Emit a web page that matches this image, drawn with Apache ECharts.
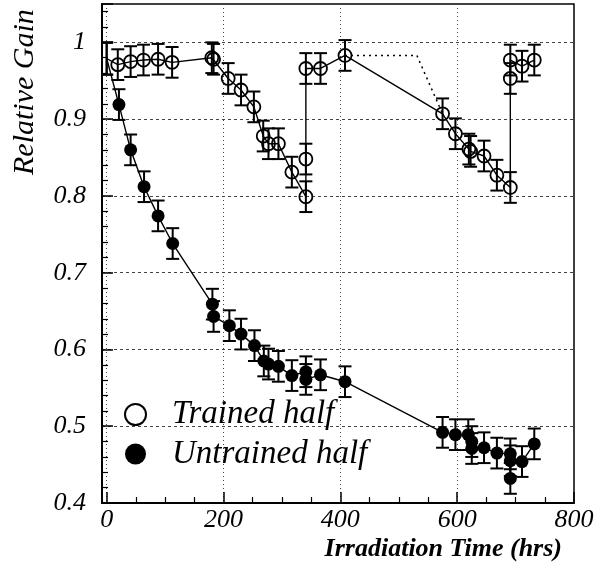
<!DOCTYPE html>
<html><head><meta charset="utf-8">
<script src="https://cdn.jsdelivr.net/npm/echarts@6/dist/echarts.min.js"></script>
<style>html,body{margin:0;padding:0;background:#fff}#c{width:598px;height:573px}</style>
</head><body><div id="c"></div>
<script>
// ---- data ----
const trainedTime = [0, 19, 41, 63, 88, 112, 180, 183, 208, 230, 252, 268, 277, 294, 317, 341, 341, 341, 366, 408, 575, 597, 620, 623, 646, 668, 691, 691, 691, 711, 732];
const trainedGain = [0.979, 0.971, 0.975, 0.977, 0.978, 0.974, 0.980, 0.978, 0.953, 0.938, 0.916, 0.878, 0.868, 0.868, 0.831, 0.799, 0.848, 0.966, 0.966, 0.983, 0.907, 0.881, 0.861, 0.858, 0.852, 0.827, 0.811, 0.953, 0.977, 0.969, 0.977];
const trainedErr  = [0.021, 0.02, 0.02, 0.02, 0.02, 0.02, 0.02, 0.02, 0.02, 0.02, 0.02, 0.02, 0.02, 0.02, 0.02, 0.02, 0.02, 0.02, 0.02, 0.02, 0.02, 0.02, 0.02, 0.02, 0.02, 0.02, 0.02, 0.02, 0.02, 0.02, 0.02];
const untrainedTime = [0, 21, 41, 64, 88, 113, 181, 183, 210, 230, 253, 269, 277, 294, 317, 341, 341, 366, 408, 575, 597, 619, 625, 625, 646, 668, 691, 691, 691, 711, 732];
const untrainedGain = [0.979, 0.919, 0.860, 0.812, 0.774, 0.738, 0.659, 0.643, 0.631, 0.620, 0.605, 0.585, 0.581, 0.578, 0.566, 0.571, 0.561, 0.567, 0.558, 0.492, 0.489, 0.489, 0.480, 0.471, 0.472, 0.465, 0.464, 0.432, 0.455, 0.454, 0.477];
const untrainedErr  = [0.021, 0.02, 0.02, 0.02, 0.02, 0.02, 0.02, 0.02, 0.02, 0.02, 0.02, 0.02, 0.02, 0.02, 0.02, 0.02, 0.02, 0.02, 0.02, 0.02, 0.02, 0.02, 0.02, 0.02, 0.02, 0.02, 0.02, 0.02, 0.02, 0.02, 0.02];
const dottedTime = [408, 531, 575];
const dottedGain = [0.983, 0.983, 0.907];
const xTickValues = [0, 200, 400, 600, 800];
const xTickLabels = ['0', '200', '400', '600', '800'];
const yTickValues = [0.4, 0.5, 0.6, 0.7, 0.8, 0.9, 1.0];
const yTickLabels = ['0.4', '0.5', '0.6', '0.7', '0.8', '0.9', '1'];
const xTitle = 'Irradiation Time (hrs)';
const yTitle = 'Relative Gain';

const X_MIN = -8, X_MAX = 800, Y_MIN = 0.4, Y_MAX = 1.05;
const FONT = 'Liberation Serif';
const TICK_FONT = "italic 26px 'Liberation Serif'";

function pointData(times, gains) {
  return times.map((t, i) => ({ value: [t, gains[i]], symbol: t === 0 ? 'none' : 'circle' }));
}
function errSeries(times, gains, errs) {
  return {
    type: 'custom', silent: true, clip: true, z: 2,
    data: times.map((t, i) => [t, gains[i], errs[i]]),
    encode: { x: 0, y: 1 },
    renderItem: function (params, api) {
      const x = api.value(0), y = api.value(1), e = api.value(2);
      const lo = api.coord([x, y - e]), hi = api.coord([x, y + e]);
      const w = 6.5, st = { stroke: '#000', lineWidth: 2 };
      return { type: 'group', children: [
        { type: 'line', shape: { x1: lo[0], y1: lo[1], x2: hi[0], y2: hi[1] }, style: st },
        { type: 'line', shape: { x1: lo[0] - w, y1: lo[1], x2: lo[0] + w, y2: lo[1] }, style: st },
        { type: 'line', shape: { x1: hi[0] - w, y1: hi[1], x2: hi[0] + w, y2: hi[1] }, style: st }
      ] };
    }
  };
}
// tick labels placed through the axis scales
const xLabelSeries = {
  type: 'custom', silent: true, clip: false, z: 6,
  data: xTickValues.map((v, i) => [v, Y_MIN, i]), encode: { x: 0, y: 1 },
  renderItem: function (params, api) {
    const p = api.coord([api.value(0), api.value(1)]);
    return { type: 'text', x: p[0], y: p[1] + 4,
      style: { text: xTickLabels[api.value(2)], font: TICK_FONT, fill: '#000', textAlign: 'center', textVerticalAlign: 'top' } };
  }
};
const yLabelSeries = {
  type: 'custom', silent: true, clip: false, z: 6,
  data: yTickValues.map((v, i) => [X_MIN, v, i]), encode: { x: 0, y: 1 },
  renderItem: function (params, api) {
    const p = api.coord([api.value(0), api.value(1)]);
    return { type: 'text', x: p[0] - 16, y: p[1],
      style: { text: yTickLabels[api.value(2)], font: TICK_FONT, fill: '#000', textAlign: 'right', textVerticalAlign: 'middle' } };
  }
};

const chart = echarts.init(document.getElementById('c'));
chart.setOption({
  animation: false,
  grid: { left: 102, right: 24, top: 4, bottom: 70, outerBoundsMode: 'none',
          show: true, borderColor: '#000', borderWidth: 1.5, backgroundColor: 'transparent' },
  graphic: [
    { type: 'text', right: 36, top: 536, silent: true,
      style: { text: xTitle, fill: '#000', font: "italic bold 26px 'Liberation Serif'" } },
    { type: 'text', x: 10, y: 175, rotation: Math.PI / 2, silent: true,
      style: { text: yTitle, fill: '#000', font: "italic 30px 'Liberation Serif'", textAlign: 'left', textVerticalAlign: 'top' } }
  ],
  legend: {
    orient: 'vertical', left: 119, top: 393, itemWidth: 21, itemHeight: 21, itemGap: 6.5,
    selectedMode: false,
    textStyle: { fontSize: 33, fontStyle: 'italic', fontFamily: FONT, color: '#000', padding: [0, 0, 0, 21] },
    data: [
      { name: 'Trained half', icon: 'circle', itemStyle: { color: '#fff', borderColor: '#000', borderWidth: 2 } },
      { name: 'Untrained half', icon: 'circle', itemStyle: { color: '#000', borderWidth: 0 } }
    ]
  },
  xAxis: {
    type: 'value', min: X_MIN, max: X_MAX, splitNumber: 5,
    axisLine: { show: true, onZero: false, lineStyle: { color: '#000', width: 2 } },
    axisTick: { show: true, inside: true, length: 11, lineStyle: { color: '#000', width: 1.5 } },
    minorTick: { show: true, splitNumber: 4, length: 6, lineStyle: { color: '#000', width: 1.2 } },
    axisLabel: { show: false },
    splitLine: { show: true, lineStyle: { color: '#444', type: [1, 3], width: 1 } }
  },
  yAxis: {
    type: 'value', min: Y_MIN, max: Y_MAX, interval: 0.1,
    axisLine: { show: true, onZero: false, lineStyle: { color: '#000', width: 2 } },
    axisTick: { show: true, inside: true, length: 11, lineStyle: { color: '#000', width: 1.5 } },
    minorTick: { show: true, splitNumber: 5, length: 6, lineStyle: { color: '#000', width: 1.2 } },
    axisLabel: { show: false },
    splitLine: { show: true, lineStyle: { color: '#444', type: [3, 3], width: 1 } }
  },
  series: [
    errSeries(trainedTime, trainedGain, trainedErr),
    errSeries(untrainedTime, untrainedGain, untrainedErr),
    {
      type: 'line', data: dottedTime.map((t, i) => [t, dottedGain[i]]), symbol: 'none', silent: true, z: 3,
      lineStyle: { color: '#000', width: 1.5, type: [2, 4] }
    },
    {
      name: 'Trained half', type: 'line', data: pointData(trainedTime, trainedGain), symbolSize: 13, z: 4, silent: true,
      itemStyle: { color: 'rgba(255,255,255,0)', borderColor: '#000', borderWidth: 1.8 },
      lineStyle: { color: '#000', width: 1.4 }
    },
    {
      name: 'Untrained half', type: 'line', data: pointData(untrainedTime, untrainedGain), symbolSize: 13, z: 4, silent: true,
      itemStyle: { color: '#000', borderColor: '#000', borderWidth: 0 },
      lineStyle: { color: '#000', width: 1.4 }
    },
    xLabelSeries,
    yLabelSeries
  ]
});
</script></body></html>
